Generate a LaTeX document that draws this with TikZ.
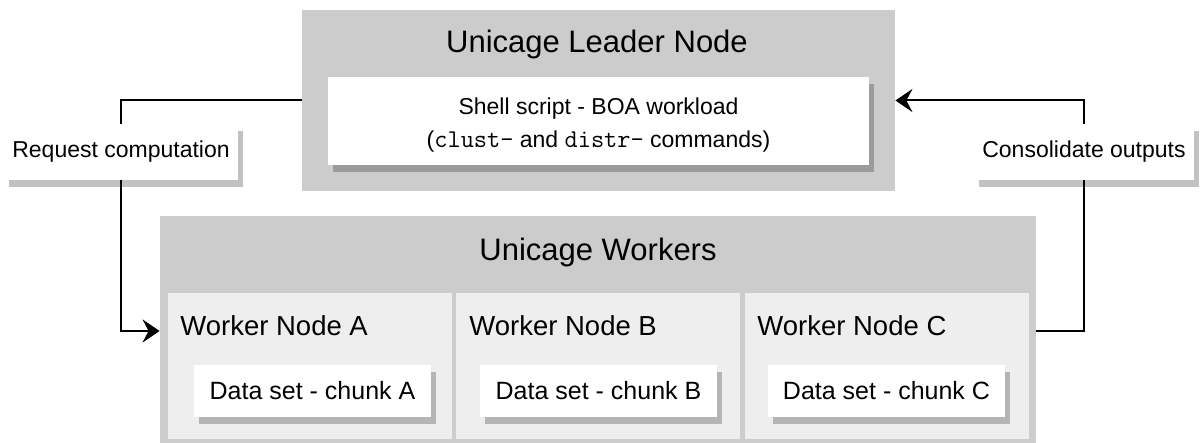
\documentclass[tikz,border=0pt]{standalone}
\usepackage{fontspec}
\setmainfont{Liberation Sans}
\usetikzlibrary{arrows.meta}
\usetikzlibrary{shadows}

\definecolor{boxgray}{HTML}{CCCCCC}
\definecolor{cellgray}{HTML}{EEEEEE}
\newcommand{\cmdname}[1]{{\fontsize{12.8}{16.5}\selectfont\ttfamily #1}}

\begin{document}
\begin{tikzpicture}[x=0.5pt, y=-0.5pt,
        container/.style={fill=boxgray, inner sep=0pt},
        cell/.style={fill=cellgray, inner sep=0pt, minimum width=142pt, minimum height=73pt},
        paper/.style={fill=white, drop shadow={shadow xshift=2.5pt, shadow yshift=-3.5pt, fill=black, opacity=0.24}},
        headline/.style={font=\fontsize{15.5}{18}\selectfont},
        wtitle/.style={anchor=west, inner sep=0pt, font=\fontsize{13.75}{16}\selectfont},
        chunk/.style={paper, inner sep=0pt, minimum width=118.5pt, minimum height=26pt, font=\fontsize{12.5}{15}\selectfont},
        tag/.style={paper, inner xsep=4.25pt, inner ysep=0pt, minimum height=28pt, font=\fontsize{11.5}{14}\selectfont},
        link/.style={draw=black, line width=1pt},
        arrowto/.style={-{Stealth[length=8.5pt, width=11.5pt, inset=3pt]}}]
        \useasboundingbox (0,0) rectangle (1201,443);

        % leader
        \node[container, minimum width=296.5pt, minimum height=90.5pt] (leader) at (598.5,100.5) {};
        \node[headline] (leadertitle) at (597,44) {Unicage Leader Node};
        \node[paper, inner sep=0pt, minimum width=270.5pt, minimum height=44pt] (shell) at (598.5,121) {};
        \node[align=center, inner sep=0pt, font=\fontsize{11.5}{16.5}\selectfont] (shelltext) at (598.5,125) {Shell script - BOA workload\\(\cmdname{clust-} and \cmdname{distr-} commands)};

        % workers
        \node[container, minimum width=438pt, minimum height=113.5pt] (workers) at (598,329.5) {};
        \node[headline] (workerstitle) at (598,252) {Unicage Workers};

        \node[cell] (wA) at (310,366) {};
        \node[cell] (wB) at (598,366) {};
        \node[cell] (wC) at (887,366) {};
        \node[wtitle] (wAtitle) at (180,326) {Worker Node A};
        \node[wtitle] (wBtitle) at (469,326) {Worker Node B};
        \node[wtitle] (wCtitle) at (757,326) {Worker Node C};
        \node[chunk] (dA) at (312.5,391) {Data set - chunk A};
        \node[chunk] (dB) at (598.5,391) {Data set - chunk B};
        \node[chunk] (dC) at (886.5,391) {Data set - chunk C};

        % edge labels
        \node[tag] (request) at (121,152) {Request computation};
        \node[tag] (consolidate) at (1084,152) {Consolidate outputs};
        \coordinate (inA) at (workers.west |- 0,331);
        \coordinate (outC) at (workers.east |- 0,331);

        \draw[link] (leader.west) -| (request.north);
        \draw[link, arrowto] (request.south) |- (inA);
        \draw[link] (outC) -| (consolidate.south);
        \draw[link, arrowto] (consolidate.north) |- (leader.east);
\end{tikzpicture}
\end{document}
